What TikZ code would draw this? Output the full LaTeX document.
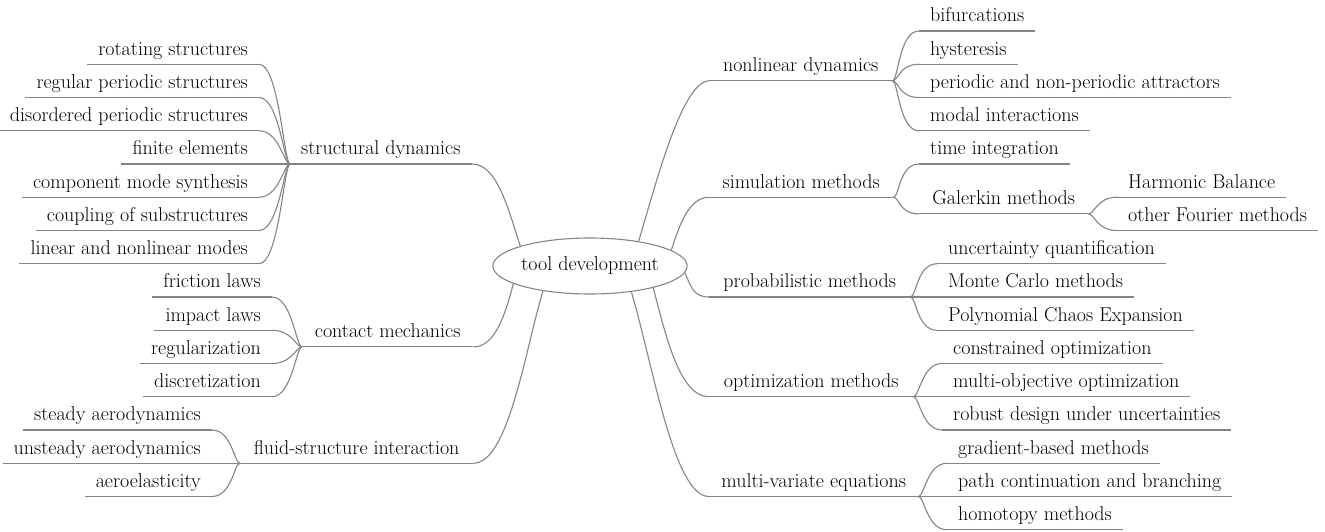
\documentclass[tikz,border=0pt]{standalone}
\usetikzlibrary{shapes.geometric}
\definecolor{linegray}{RGB}{132,132,132}
\begin{document}
\begin{tikzpicture}[x=1pt,y=-1pt,
  every node/.style={font=\fontsize{20}{24}\selectfont, text height=14pt, text depth=5pt, inner ysep=4pt, inner xsep=11pt},
  conn/.style={draw=linegray, line width=1.1pt},
  lc/.style={anchor=south east},
  rc/.style={anchor=south west},
  par/.style={anchor=south west, minimum width=#1},
  rootnode/.style={draw=linegray, line width=1.1pt, ellipse, minimum width=174pt, minimum height=56pt, inner sep=0pt}]
\useasboundingbox (0,0) rectangle (1325,531);

% root
\node[rootnode] (root) at (590,266) {tool development};

% left: structural dynamics
\node[par=180] (sd) at (290,164) {structural dynamics};
\node[lc] (s1) at (259,64.25) {rotating structures};
\node[lc] (s2) at (259,97.5) {regular periodic structures};
\node[lc] (s3) at (259,130.75) {disordered periodic structures};
\node[lc] (s4) at (259,164) {finite elements};
\node[lc] (s5) at (259,197.25) {component mode synthesis};
\node[lc] (s6) at (259,230.5) {coupling of substructures};
\node[lc] (s7) at (259,263.75) {linear and nonlinear modes};

% left: contact mechanics
\node[par=171] (cm) at (302,346.9) {contact mechanics};
\node[lc] (c1) at (272,297) {friction laws};
\node[lc] (c2) at (272,330.25) {impact laws};
\node[lc] (c3) at (272,363.5) {regularization};
\node[lc] (c4) at (272,396.75) {discretization};

% left: fluid-structure interaction
\node[par=233] (fsi) at (240,463.25) {fluid-structure interaction};
\node[lc] (f1) at (212,430) {steady aerodynamics};
\node[lc] (f2) at (212,463.25) {unsteady aerodynamics};
\node[lc] (f3) at (212,496.5) {aeroelasticity};

% right: nonlinear dynamics
\node[par=183] (nd) at (709,80.9) {nonlinear dynamics};
\node[rc] (n1) at (919,31) {bifurcations};
\node[rc] (n2) at (919,64.25) {hysteresis};
\node[rc] (n3) at (919,97.5) {periodic and non-periodic attractors};
\node[rc] (n4) at (919,130.75) {modal interactions};

% right: simulation methods
\node[par=184] (sm) at (709,197.25) {simulation methods};
\node[rc] (t1) at (919,164) {time integration};
\node[par=169] (gm) at (919,213.9) {Galerkin methods};
\node[rc] (h1) at (1117,197.25) {Harmonic Balance};
\node[rc] (h2) at (1117,230.5) {other Fourier methods};

% right: probabilistic methods
\node[par=201] (pm) at (709,297) {probabilistic methods};
\node[rc] (p1) at (937,263.75) {uncertainty quantification};
\node[rc] (p2) at (937,297) {Monte Carlo methods};
\node[rc] (p3) at (937,330.25) {Polynomial Chaos Expansion};

% right: optimization methods
\node[par=204] (om) at (709,396.75) {optimization methods};
\node[rc] (o1) at (942,363.5) {constrained optimization};
\node[rc] (o2) at (942,396.75) {multi-objective optimization};
\node[rc] (o3) at (942,430) {robust design under uncertainties};

% right: multi-variate equations
\node[par=209] (mv) at (709,496.5) {multi-variate equations};
\node[rc] (m1) at (947,463.25) {gradient-based methods};
\node[rc] (m2) at (947,496.5) {path continuation and branching};
\node[rc] (m3) at (947,529.75) {homotopy methods};

% underlines
\foreach \n in {sd,s1,s2,s3,s4,s5,s6,s7,cm,c1,c2,c3,c4,fsi,f1,f2,f3,
  nd,n1,n2,n3,n4,sm,t1,gm,h1,h2,pm,p1,p2,p3,om,o1,o2,o3,mv,m1,m2,m3}
  \draw[conn] (\n.south west) -- (\n.south east);

% root connectors
\draw[conn] (root.164) .. controls +(-13,-40) and +(25,0) .. (sd.south east);
\draw[conn] (root.193) .. controls +(-8,30) and +(22,0) .. (cm.south east);
\draw[conn] (root.208) .. controls +(-18,60) and +(35,0) .. (fsi.south east);
\draw[conn] (root.27.5) .. controls +(14,-45) and +(-28,0) .. (nd.south west);
\draw[conn] (root.11) .. controls +(8,-25) and +(-20,0) .. (sm.south west);
\draw[conn] (root.-4) .. controls +(6,15) and +(-15,0) .. (pm.south west);
\draw[conn] (root.-19) .. controls +(12,45) and +(-30,0) .. (om.south west);
\draw[conn] (root.-32) .. controls +(22,75) and +(-35,0) .. (mv.south west);

% left branch connectors
\foreach \c in {s1,s2,s3,s5,s6,s7}
  \draw[conn] (sd.south west) .. controls +(-6,0) and +(20,0) .. (\c.south east);
\draw[conn] (sd.south west) -- (s4.south east);
\foreach \c in {c1,c2,c3,c4}
  \draw[conn] (cm.south west) .. controls +(-6,0) and +(20,0) .. (\c.south east);
\foreach \c in {f1,f3}
  \draw[conn] (fsi.south west) .. controls +(-6,0) and +(20,0) .. (\c.south east);
\draw[conn] (fsi.south west) -- (f2.south east);

% right branch connectors
\foreach \c in {n1,n2,n3,n4}
  \draw[conn] (nd.south east) .. controls +(6,0) and +(-20,0) .. (\c.south west);
\foreach \c in {t1,gm}
  \draw[conn] (sm.south east) .. controls +(6,0) and +(-20,0) .. (\c.south west);
\foreach \c in {h1,h2}
  \draw[conn] (gm.south east) .. controls +(6,0) and +(-20,0) .. (\c.south west);
\foreach \c in {p1,p3}
  \draw[conn] (pm.south east) .. controls +(6,0) and +(-20,0) .. (\c.south west);
\draw[conn] (pm.south east) -- (p2.south west);
\foreach \c in {o1,o3}
  \draw[conn] (om.south east) .. controls +(6,0) and +(-20,0) .. (\c.south west);
\draw[conn] (om.south east) -- (o2.south west);
\foreach \c in {m1,m3}
  \draw[conn] (mv.south east) .. controls +(6,0) and +(-20,0) .. (\c.south west);
\draw[conn] (mv.south east) -- (m2.south west);
\end{tikzpicture}
\end{document}
